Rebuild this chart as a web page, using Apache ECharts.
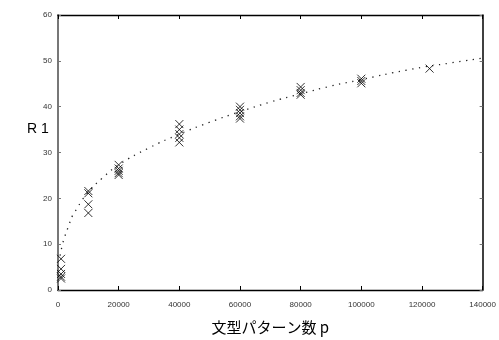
<!DOCTYPE html>
<html><head><meta charset="utf-8">
<script src="https://cdn.jsdelivr.net/npm/echarts@6/dist/echarts.min.js"></script>
<style>html,body{margin:0;padding:0;background:#fff}#c{width:499px;height:340px}</style>
</head><body><div id="c"></div>
<script>
// measured points: [patterns, R1]
const pointsX = [1000,1000,1000,1000,1000,
  10000,10000,10000,10000,
  20000,20000,20000,20000,20000,
  40000,40000,40000,40000,40000,
  60000,60000,60000,60000,60000,
  80000,80000,80000,80000,
  100000,100000,100000,
  122500];
const pointsY = [6.8,4.6,3.5,2.9,2.5,
  21.6,21.1,18.7,16.8,
  27.3,26.5,26.0,25.5,25.1,
  36.2,35.0,34.0,33.2,32.2,
  40.0,39.3,38.6,37.9,37.4,
  44.3,43.6,43.0,42.6,
  46.1,45.6,45.1,
  48.3];
// fitted curve
const curveX = [700,1500,2300,3300,4900,6400,7900,11000,14400,20000,30000,40000,50000,60000,70000,80000,90000,100000,115000,130000,140000];
const curveY = [7.5,10.0,11.8,13.6,16.4,17.9,19.6,22.1,24.3,27.3,31.0,34.0,36.6,38.9,41.0,42.8,44.5,45.9,48.0,49.6,50.6];

const chart = echarts.init(document.getElementById('c'));
chart.setOption({
  animation:false,
  backgroundColor:'#fff',
  grid:{left:58, right:13, top:15, bottom:43},
  xAxis:[{
    type:'value', min:0, max:140000, interval:20000,
    axisLine:{show:true, onZero:false, lineStyle:{color:'#000', width:1.3}},
    axisTick:{show:true, inside:true, length:4, lineStyle:{color:'#000'}},
    axisLabel:{show:true, margin:11, color:'#333', fontSize:8, fontFamily:'Liberation Sans, Arial, sans-serif', formatter:function(v){return String(v);}},
    splitLine:{show:false},
    name:'文型パターン数 p', nameLocation:'middle', nameGap:30,
    nameTextStyle:{fontSize:15, color:'#000', fontFamily:'Noto Sans CJK JP'}
  },{
    type:'value', position:'top', min:0, max:140000, interval:20000,
    axisLine:{show:true, onZero:false, lineStyle:{color:'#000', width:1.3}},
    axisTick:{show:true, inside:true, length:4, lineStyle:{color:'#000'}},
    axisLabel:{show:false}, splitLine:{show:false}
  }],
  yAxis:[{
    type:'value', min:0, max:60, interval:10,
    axisLine:{show:true, onZero:false, lineStyle:{color:'#777', width:2}},
    axisTick:{show:true, inside:true, length:3, lineStyle:{color:'#777'}},
    axisLabel:{show:true, margin:6, color:'#333', fontSize:8, fontFamily:'Liberation Sans, Arial, sans-serif'},
    splitLine:{show:false}
  },{
    type:'value', position:'right', min:0, max:60, interval:10,
    axisLine:{show:true, onZero:false, lineStyle:{color:'#000', width:1.5}},
    axisTick:{show:true, inside:true, length:3, lineStyle:{color:'#777'}},
    axisLabel:{show:false}, splitLine:{show:false}
  }],
  graphic:[
    {type:'text', left:27, top:122, style:{text:'R 1', fontSize:14, fill:'#000', fontFamily:'Liberation Sans, Arial, sans-serif'}}
  ],
  series:[{
    type:'line', smooth:true, showSymbol:false, symbol:'none',
    xAxisIndex:0, yAxisIndex:0,
    data:curveX.map(function(x,i){return [x,curveY[i]];}),
    lineStyle:{color:'#222', width:1.3, type:[1.3,5.5]}, z:2
  },{
    type:'scatter', xAxisIndex:1, yAxisIndex:1,
    data:pointsX.map(function(x,i){return [x,pointsY[i]];}),
    symbol:'path://M0,0L10,10M10,0L0,10', symbolSize:8,
    itemStyle:{color:'rgba(0,0,0,0)', borderColor:'#000', borderWidth:1}, z:3
  }]
});
</script></body></html>
